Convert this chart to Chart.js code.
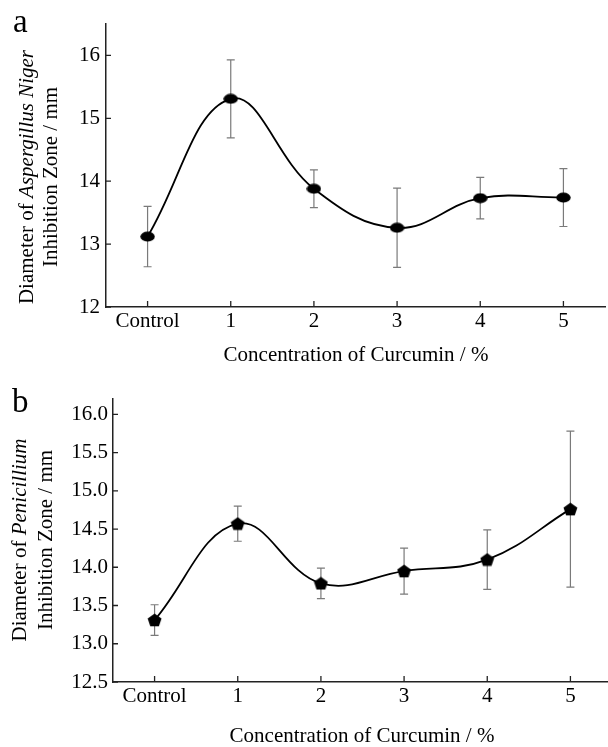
<!DOCTYPE html>
<html>
<head>
<meta charset="utf-8">
<script src="https://cdn.jsdelivr.net/npm/chart.js@4"></script>
<style>
  body { margin: 0; background: #fff; width: 608px; height: 747px; overflow: hidden; position: relative; }
  .panel { position: absolute; left: 0; width: 608px; overflow: hidden; }
</style>
</head>
<body>
<div class="panel" style="top:0;height:374px"><canvas id="chart-a" width="608" height="374"></canvas></div>
<div class="panel" style="top:374px;height:373px"><canvas id="chart-b" width="614" height="373"></canvas></div>
<script>
// ── Data ─────────────────────────────────────────────────────────────────────
const categories = ["Control", "1", "2", "3", "4", "5"];

const nigerMeans  = [13.12, 15.31, 13.88, 13.26, 13.73, 13.74];
const nigerErrors = [0.48, 0.62, 0.30, 0.63, 0.33, 0.46];
const nigerTicks  = [12, 13, 14, 15, 16];

const penicilliumMeans  = [13.31, 14.57, 13.79, 13.95, 14.10, 14.76];
const penicilliumErrors = [0.20, 0.23, 0.20, 0.30, 0.39, 1.02];
const penicilliumTicks  = [12.5, 13.0, 13.5, 14.0, 14.5, 15.0, 15.5, 16.0];

const FONT = '"Liberation Serif", "Times New Roman", serif';

// ── Marker images ───────────────────────────────────────────────────────────
function ellipseMarker() {
  const c = document.createElement("canvas");
  c.width = 15; c.height = 11;
  const g = c.getContext("2d");
  g.fillStyle = "#000";
  g.beginPath();
  g.ellipse(7.5, 5.5, 7.2, 5.1, 0, 0, Math.PI * 2);
  g.fill();
  return c;
}

function pentagonMarker() {
  const c = document.createElement("canvas");
  c.width = 15; c.height = 14;
  const g = c.getContext("2d");
  g.fillStyle = "#000";
  g.beginPath();
  for (let k = 0; k < 5; k++) {
    const a = -Math.PI / 2 + k * 2 * Math.PI / 5;
    const px = 7.5 + 7.3 * Math.cos(a);
    const py = 7.6 + 7 * Math.sin(a);
    if (k === 0) g.moveTo(px, py); else g.lineTo(px, py);
  }
  g.closePath();
  g.fill();
  return c;
}

// ── Plugin: error bars, inward ticks, titles ────────────────────────────────
const panelDecor = {
  id: "panelDecor",
  beforeDatasetsDraw(chart, args, opts) {
    const ctx = chart.ctx;
    const x = chart.scales.x, y = chart.scales.y;
    const area = chart.chartArea;
    ctx.save();

    // error bars
    ctx.strokeStyle = "#7a7a7a";
    ctx.lineWidth = 1.2;
    opts.means.forEach((m, i) => {
      const px = x.getPixelForValue(i);
      const top = y.getPixelForValue(m + opts.errors[i]);
      const bot = y.getPixelForValue(m - opts.errors[i]);
      ctx.beginPath();
      ctx.moveTo(px, top); ctx.lineTo(px, bot);
      ctx.moveTo(px - 4, top); ctx.lineTo(px + 4, top);
      ctx.moveTo(px - 4, bot); ctx.lineTo(px + 4, bot);
      ctx.stroke();
    });

    // inward tick marks
    ctx.strokeStyle = "#222";
    ctx.lineWidth = 1.3;
    ctx.beginPath();
    categories.forEach((c, i) => {
      const px = x.getPixelForValue(i);
      ctx.moveTo(px, area.bottom); ctx.lineTo(px, area.bottom - 6);
    });
    opts.ticks.forEach(v => {
      const py = y.getPixelForValue(v);
      ctx.moveTo(area.left, py); ctx.lineTo(area.left + 5, py);
    });
    ctx.stroke();
    ctx.restore();
  },
  afterDraw(chart, args, opts) {
    const ctx = chart.ctx;
    ctx.save();
    ctx.fillStyle = "#000";
    ctx.textBaseline = "alphabetic";

    // panel letter
    ctx.font = "33px " + FONT;
    ctx.textAlign = "left";
    ctx.fillText(opts.letter, opts.letterPos[0], opts.letterPos[1]);

    // x title
    ctx.font = "21px " + FONT;
    ctx.textAlign = "center";
    ctx.fillText(opts.xTitle, opts.xTitlePos[0], opts.xTitlePos[1]);

    // y title: rotated, mixed italic
    ctx.textAlign = "left";
    opts.yTitle.forEach((line, li) => {
      const fonts = line.map(seg => (seg[1] ? "italic " : "") + "21px " + FONT);
      let total = 0;
      const widths = line.map((seg, si) => {
        ctx.font = fonts[si];
        const w = ctx.measureText(seg[0]).width;
        total += w;
        return w;
      });
      ctx.save();
      ctx.translate(opts.yTitleX[li], opts.yTitleCY);
      ctx.rotate(-Math.PI / 2);
      let cx = -total / 2;
      line.forEach((seg, si) => {
        ctx.font = fonts[si];
        ctx.fillText(seg[0], cx, 0);
        cx += widths[si];
      });
      ctx.restore();
    });
    ctx.restore();
  }
};

function makeChart(id, cfg) {
  return new Chart(document.getElementById(id), {
    type: "line",
    data: {
      labels: categories,
      datasets: [{
        data: cfg.means,
        borderColor: "#000",
        borderWidth: 1.8,
        tension: 0.4,
        pointStyle: cfg.marker,
        pointRadius: 7,
        clip: false,
      }],
    },
    options: {
      responsive: false,
      animation: false,
      events: [],
      layout: { autoPadding: false, padding: cfg.padding },
      plugins: {
        legend: { display: false },
        tooltip: { enabled: false },
        panelDecor: cfg.decor,
      },
      scales: {
        x: {
          offset: true,
          grid: { display: false, drawTicks: false },
          border: { display: true, color: "#222", width: 1.5 },
          ticks: { color: "#000", font: { family: FONT, size: 21 }, padding: 2, maxRotation: 0, autoSkip: false },
          afterFit: s => { s.height = cfg.xHeight; s.paddingLeft = 0; s.paddingRight = 0; },
        },
        y: {
          min: cfg.min,
          max: cfg.max,
          grid: { display: false, drawTicks: false },
          border: { display: true, color: "#222", width: 1.5 },
          ticks: {
            color: "#000",
            font: { family: FONT, size: 21 },
            padding: cfg.yPad,
            callback: v => cfg.fmt(v),
          },
          afterBuildTicks: s => { s.ticks = cfg.ticks.map(v => ({ value: v })); },
          afterFit: s => { s.width = cfg.yWidth; },
        },
      },
    },
    plugins: [panelDecor],
  });
}

// ── Panel a ─────────────────────────────────────────────────────────────────
makeChart("chart-a", {
  means: nigerMeans,
  marker: ellipseMarker(),
  min: 12, max: 16.5,
  ticks: nigerTicks,
  fmt: v => String(v),
  padding: { top: 24, right: 3, bottom: 0, left: 0 },
  xHeight: 67, yWidth: 106, yPad: 6,
  decor: {
    means: nigerMeans, errors: nigerErrors, ticks: nigerTicks,
    letter: "a", letterPos: [13, 32],
    xTitle: "Concentration of Curcumin / %", xTitlePos: [356, 361],
    yTitle: [[["Diameter of ", false], ["Aspergillus Niger", true]], [["Inhibition Zone / mm", false]]],
    yTitleX: [33, 57], yTitleCY: 177,
  },
});

// ── Panel b ─────────────────────────────────────────────────────────────────
makeChart("chart-b", {
  means: penicilliumMeans,
  marker: pentagonMarker(),
  min: 12.5, max: 16.2,
  ticks: penicilliumTicks,
  fmt: v => v.toFixed(1),
  padding: { top: 25, right: 2, bottom: 0, left: 0 },
  xHeight: 65, yWidth: 113, yPad: 5,
  decor: {
    means: penicilliumMeans, errors: penicilliumErrors, ticks: penicilliumTicks,
    letter: "b", letterPos: [12, 38],
    xTitle: "Concentration of Curcumin / %", xTitlePos: [362, 368],
    yTitle: [[["Diameter of ", false], ["Penicillium", true]], [["Inhibition Zone / mm", false]]],
    yTitleX: [26, 52], yTitleCY: 166,
  },
});
</script>
</body>
</html>
